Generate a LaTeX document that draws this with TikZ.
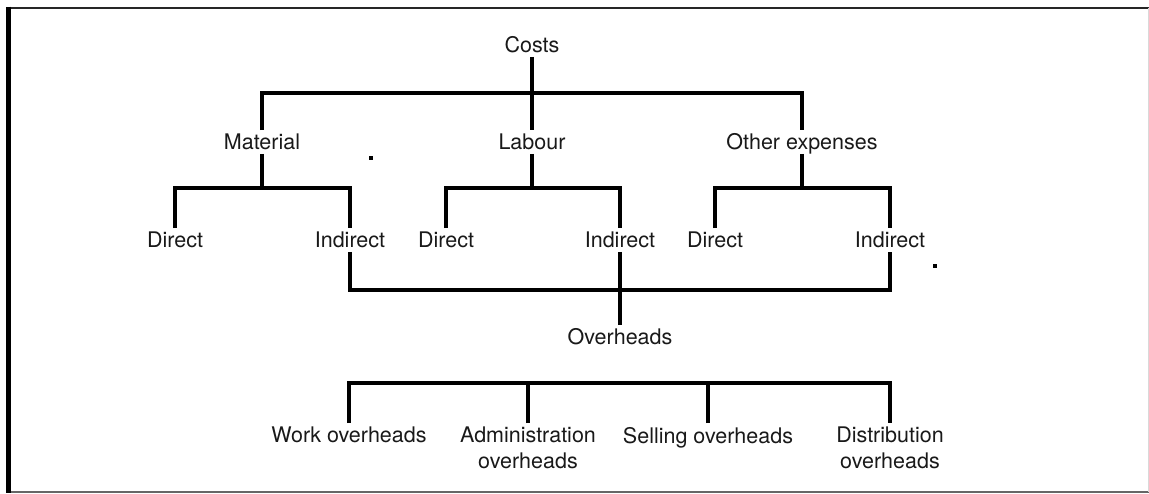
\documentclass[tikz,border=0pt]{standalone}
\usepackage{fontspec}
\setmainfont{TeX Gyre Heros}
\begin{document}
\begin{tikzpicture}[x=1pt,y=-1pt,
  lbl/.style={inner sep=4pt, text height=15.5pt, text depth=0pt, font=\fontsize{21.5}{26}\selectfont, text=black!90},
  blbl/.style={inner sep=4pt, anchor=north, align=center, font=\fontsize{21.5}{26}\selectfont, text=black!90},
  conn/.style={line width=3.5pt, line join=miter, black}]
\useasboundingbox (0,0) rectangle (1149,493);
% frame
\draw[line width=2pt, black!85] (6,7.5) -- (1149,7.5);
\draw[line width=1.5pt, black!60] (6,492) -- (1149,492);
\draw[line width=1pt, black!15] (1148,7.5) -- (1148,492);
\draw[line width=5pt, black] (8.5,6.5) -- (8.5,493);
% levels
\coordinate (lvlT) at (0,93);
\coordinate (lvlA) at (0,188);
\coordinate (lvlC) at (0,290);
\coordinate (lvlD) at (0,383);
% nodes
\node[lbl] (costs) at (532,45) {Costs};
\node[lbl] (mat) at (262,142) {Material};
\node[lbl] (lab) at (532,142) {Labour};
\node[lbl] (oth) at (802,142) {Other expenses};
\node[lbl] (md) at (175,240) {Direct};
\node[lbl] (mi) at (350,240) {Indirect};
\node[lbl] (ld) at (446,240) {Direct};
\node[lbl] (li) at (620,240) {Indirect};
\node[lbl] (od) at (715,240) {Direct};
\node[lbl] (oi) at (890,240) {Indirect};
\node[lbl] (ovh) at (620,337) {Overheads};
\node[blbl] (wo) at (349,423) {Work overheads};
\node[blbl] (ad) at (528,423) {Administration\\overheads};
\node[blbl] (so) at (708,423) {Selling overheads};
\node[blbl] (di) at (890,423) {Distribution\\overheads};
% connectors
\draw[conn] (costs.south) -- (lab.north);
\draw[conn] (mat.north) -- (mat.north |- lvlT) -- (oth.north |- lvlT) -- (oth.north);
\draw[conn] (md.north) -- (md.north |- lvlA) -- (mi.north |- lvlA) -- (mi.north);
\draw[conn] (mat.south) -- (mat.south |- lvlA);
\draw[conn] (ld.north) -- (ld.north |- lvlA) -- (li.north |- lvlA) -- (li.north);
\draw[conn] (lab.south) -- (lab.south |- lvlA);
\draw[conn] (od.north) -- (od.north |- lvlA) -- (oi.north |- lvlA) -- (oi.north);
\draw[conn] (oth.south) -- (oth.south |- lvlA);
\draw[conn] (mi.south) -- (mi.south |- lvlC) -- (oi.south |- lvlC) -- (oi.south);
\draw[conn] (li.south) -- (ovh.north);
\draw[conn] (wo.north) -- (wo.north |- lvlD) -- (di.north |- lvlD) -- (di.north);
\draw[conn] (ad.north) -- (ad.north |- lvlD);
\draw[conn] (so.north) -- (so.north |- lvlD);
% stray dots
\fill[black] (369,156) rectangle (373,160);
\fill[black] (933,264) rectangle (937,268);
\end{tikzpicture}
\end{document}
